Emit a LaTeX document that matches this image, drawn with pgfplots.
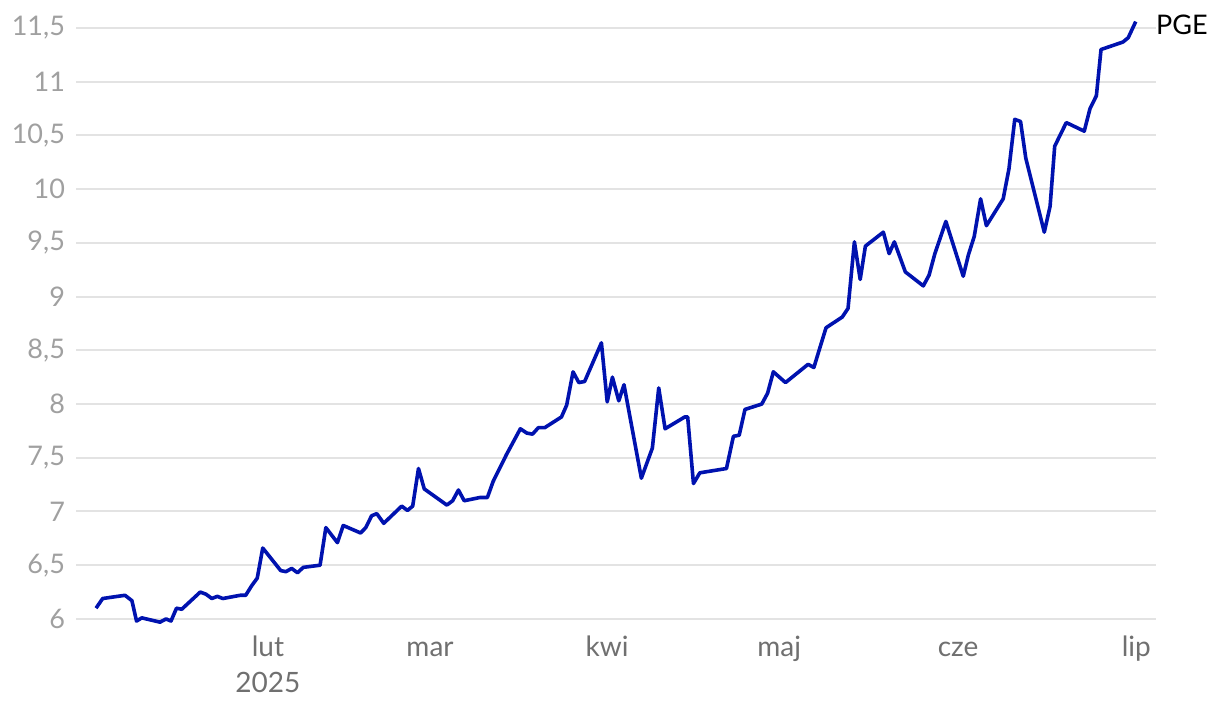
\documentclass[border=0pt]{standalone}
\usepackage{fontspec}
\setmainfont{Lato}
\usepackage{pgfplots}
\pgfplotsset{compat=1.18}
\usepackage{pgfplotstable}

\definecolor{pgeblue}{RGB}{0,18,175}
\definecolor{gridgray}{RGB}{227,227,227}
\definecolor{ylabgray}{RGB}{160,160,160}
\definecolor{xlabgray}{RGB}{112,112,112}

% day of year (1 Jan = 0), closing price
\pgfplotstableread{
day price
1.3 6.10
2.45 6.19
6.3 6.22
7.5 6.17
8.3 5.98
9.2 6.01
12.35 5.97
13.4 6.00
14.25 5.98
15.2 6.10
16.1 6.09
19.3 6.25
20.3 6.23
21.3 6.19
22.25 6.21
23.2 6.19
26.2 6.22
27.15 6.22
28.2 6.31
29.15 6.38
30.1 6.66
33.2 6.45
34.1 6.44
35.1 6.47
36.1 6.43
37.1 6.48
40.0 6.50
41.0 6.85
43.0 6.71
44.0 6.87
47.0 6.80
47.9 6.85
48.9 6.96
49.8 6.98
51.0 6.89
54.1 7.05
55.1 7.01
56.0 7.05
57.0 7.40
58.0 7.21
61.9 7.06
62.9 7.10
63.9 7.20
64.9 7.10
67.6 7.13
68.9 7.13
69.9 7.28
72.2 7.53
74.6 7.77
75.7 7.73
76.7 7.72
77.7 7.78
78.8 7.78
81.7 7.88
82.6 7.99
83.7 8.30
84.7 8.20
85.7 8.21
88.6 8.57
89.6 8.02
90.5 8.25
91.6 8.03
92.5 8.18
95.5 7.31
97.4 7.59
98.5 8.15
99.6 7.77
103.0 7.88
103.5 7.88
104.5 7.26
105.6 7.36
110.2 7.40
111.4 7.70
112.4 7.71
113.4 7.95
116.3 8.00
117.3 8.10
118.3 8.30
120.4 8.20
124.3 8.37
125.3 8.34
126.2 8.50
127.4 8.71
130.2 8.81
131.2 8.89
132.3 9.51
133.3 9.16
134.2 9.47
137.3 9.60
138.3 9.40
139.2 9.51
141.1 9.23
144.2 9.10
145.2 9.20
146.2 9.40
148.1 9.70
151.1 9.19
152.0 9.39
153.0 9.56
154.1 9.91
155.1 9.66
158.0 9.91
159.0 10.19
160.0 10.65
161.0 10.63
161.9 10.29
165.1 9.60
166.1 9.84
166.9 10.40
168.9 10.62
172.0 10.54
173.0 10.75
174.1 10.87
174.9 11.30
178.7 11.37
179.6 11.41
180.9 11.56
}\pgedata

\begin{document}
\begin{tikzpicture}
\begin{axis}[
    scale only axis,
    width=540pt,
    height=303.5pt,
    xmin=-2.16, xmax=184.4,
    ymin=5.95, ymax=11.6,
    axis line style={draw=none},
    major tick length=0pt,
    ytick={6,6.5,...,11.5},
    ymajorgrids,
    grid style={gridgray, line width=1pt},
    /pgf/number format/.cd, use comma, assume math mode=true,
    /pgfplots/.cd,
    yticklabel style={font=\fontsize{13.5}{16}\selectfont, text=ylabgray, xshift=-2pt},
    xtick={31,59,89.6,119.3,150.2,181},
    xticklabels={{\strut lut\\\strut 2025},\strut mar,\strut kwi,\strut maj,\strut cze,\strut lip},
    xticklabel style={font=\fontsize{14}{18}\selectfont, text=xlabgray, align=center},
    clip=false,
]
\addplot[pgeblue, line width=1.8pt, line join=round, no markers]
    table[x=day, y=price] {\pgedata}
    node[pos=1, anchor=base west, xshift=6pt, yshift=-6.3pt, font=\fontsize{13.5}{16}\selectfont, text=black] {PGE};
\end{axis}
\path ([shift={(-38pt,-43.8pt)}]current axis.south west) rectangle ([shift={(32pt,8.65pt)}]current axis.north east);
\end{tikzpicture}
\end{document}
